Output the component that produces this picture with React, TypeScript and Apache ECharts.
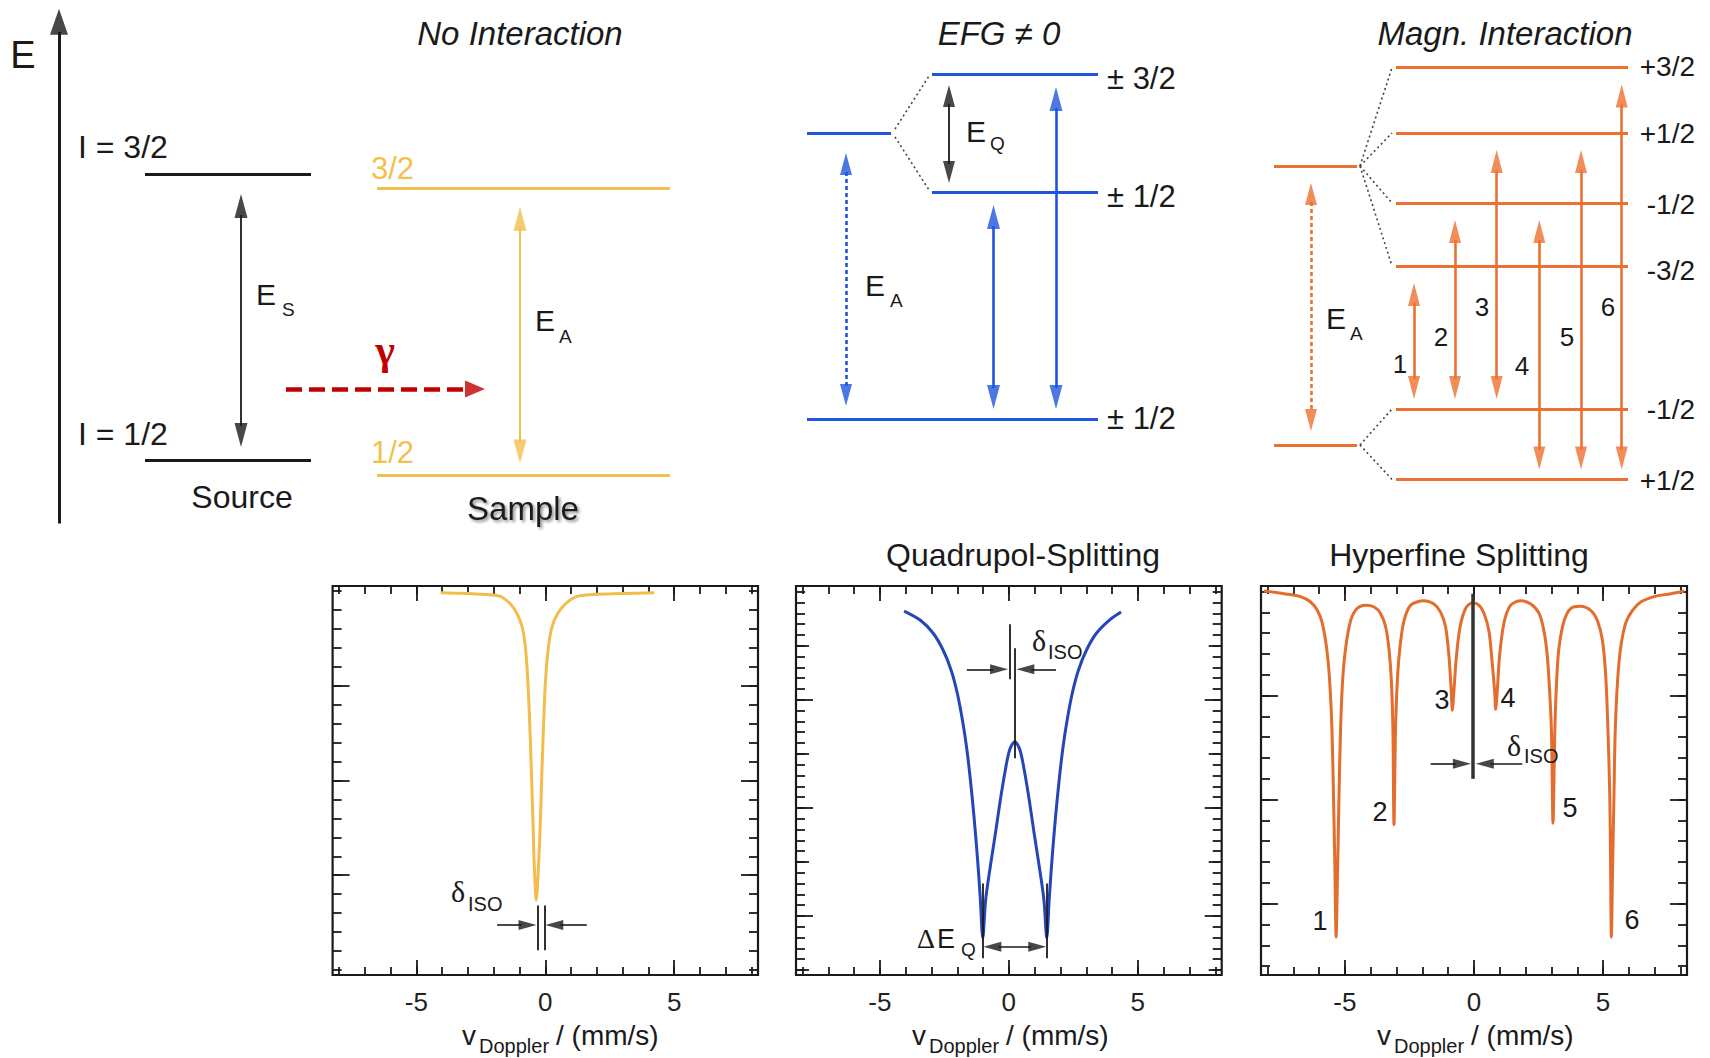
import React, { useEffect, useRef } from "react";
import * as echarts from "echarts";

const W = 1710;
const H = 1058;
const TOP_H = 530; // schematic panel: diagram units (1 unit = 1 px), energy measured upward
const SANS = "'Liberation Sans', Arial, Helvetica, sans-serif";
const SERIF = "'Liberation Serif', 'Times New Roman', serif";
const INK = "#1a1a1a";
const YEL = "#f3bf4d";
const BLUE = "#1f55dd";
const ORANGE = "#ec7130";
const RED = "#c00000";
const ARROW = "path://M0,0L6,22L-6,22Z M0,-22L0.01,-22L0,-22Z";

// ---------------- Spectra (velocity in mm/s, transmission in tick units) ----------------
const singleVel = [-4.06, -3.0, -2.26, -1.74, -1.35, -1.1, -0.9, -0.77, -0.68, -0.61, -0.54, -0.48, -0.43, -0.35, -0.26, -0.19, -0.13, -0.06, 0.01, 0.12, 0.26, 0.48, 0.77, 1.23, 1.87, 3.0, 4.23];
const singleTrans = [19.9, 19.85, 19.8, 19.7, 19.3, 18.8, 18.1, 17.0, 15.3, 13.2, 10.5, 7.9, 5.6, 3.7, 5.6, 7.9, 10.5, 13.2, 15.3, 17.0, 18.1, 18.8, 19.3, 19.7, 19.8, 19.85, 19.9];

const quadVel = [-4.06, -3.44, -2.94, -2.55, -2.24, -2.0, -1.8, -1.64, -1.49, -1.35, -1.22, -1.11, -1.01, -0.9, -0.72, -0.52, -0.33, -0.15, 0.03, 0.23, 0.43, 0.61, 0.79, 0.98, 1.18, 1.36, 1.47, 1.57, 1.68, 1.81, 1.95, 2.1, 2.26, 2.46, 2.7, 3.01, 3.4, 3.9, 4.35];
const quadTrans = [38.21, 37.38, 36.18, 34.61, 32.76, 30.63, 28.13, 25.63, 22.58, 19.16, 15.46, 11.76, 7.97, 11.48, 14.56, 17.65, 20.73, 23.32, 25.36, 26.12, 25.36, 23.32, 20.73, 17.65, 14.56, 11.48, 7.97, 11.76, 15.46, 19.16, 22.58, 25.63, 28.13, 30.63, 32.76, 34.61, 36.18, 37.38, 38.12];

const hypVel = [-8.14, -7.36, -6.72, -6.33, -6.07, -5.88, -5.71, -5.59, -5.5, -5.44, -5.39, -5.34, -5.28, -5.23, -5.17, -5.09, -4.97, -4.78, -4.52, -4.2, -3.88, -3.62, -3.42, -3.29, -3.2, -3.14, -3.1, -3.04, -2.97, -2.87, -2.71, -2.45, -1.94, -1.55, -1.29, -1.1, -0.97, -0.88, -0.84, -0.78, -0.68, -0.54, -0.32, -0.06, 0.19, 0.39, 0.58, 0.71, 0.8, 0.84, 0.9, 0.99, 1.16, 1.42, 1.81, 2.2, 2.52, 2.71, 2.84, 2.93, 3.0, 3.06, 3.13, 3.2, 3.29, 3.49, 3.75, 4.13, 4.52, 4.78, 4.97, 5.1, 5.19, 5.26, 5.29, 5.32, 5.37, 5.42, 5.47, 5.56, 5.68, 5.88, 6.14, 6.46, 6.98, 7.62, 8.14];
const hypTrans = [20.03, 19.9, 19.76, 19.5, 19.1, 18.5, 17.3, 15.7, 13.3, 10.1, 6.85, 3.4, 6.85, 10.1, 13.3, 15.7, 17.3, 18.6, 19.2, 19.35, 19.27, 18.95, 18.3, 17.2, 15.7, 13.3, 8.8, 13.3, 15.7, 17.3, 18.6, 19.35, 19.56, 19.4, 19.0, 18.3, 16.9, 15.2, 14.3, 15.2, 16.9, 18.3, 19.2, 19.47, 19.35, 18.95, 18.1, 16.5, 15.2, 14.35, 15.2, 16.9, 18.5, 19.35, 19.56, 19.4, 18.95, 18.1, 16.9, 15.2, 13.3, 8.87, 13.3, 15.7, 17.3, 18.6, 19.2, 19.3, 19.1, 18.6, 17.7, 16.0, 13.3, 10.1, 6.85, 3.4, 6.85, 10.1, 13.3, 15.7, 17.3, 18.5, 19.1, 19.5, 19.76, 19.9, 20.03];

// ---------------- Axis ticks ----------------
const VEL_MIN = -8.25;
const VEL_MAX = 8.25;
const velMajorTicks = [-5, 0, 5];
const velTickLabels = ["-5", "0", "5"];
const velMinorTicks = [-8, -7, -6, -5, -4, -3, -2, -1, 0, 1, 2, 3, 4, 5, 6, 7, 8];
const singleYMajor = [5, 10, 15];
const singleYMinor = [0, 1, 2, 3, 4, 5, 6, 7, 8, 9, 10, 11, 12, 13, 14, 15, 16, 17, 18, 19, 20];
const quadYLong = [10, 20, 30];
const quadYMedium = [5, 15, 25, 35];
const quadYShort = [5, 6, 7, 8, 9, 10, 11, 12, 13, 14, 15, 16, 17, 18, 19, 20, 21, 22, 23, 24, 25, 26, 27, 28, 29, 30, 31, 32, 33, 34, 35, 36, 37, 38, 39, 40];
const hypYMajor = [5, 10, 15];
const hypYMinor = [2, 3, 4, 5, 6, 7, 8, 9, 10, 11, 12, 13, 14, 15, 16, 17, 18, 19, 20];

// ---------------- Energy-level schemes (diagram units) ----------------
const sourceLevelE = [355.5, 70];
const sourceLevelNames = ["I = 3/2", "I = 1/2"];
const sampleLevelE = [341.3, 54.5];
const sampleLevelNames = ["3/2", "1/2"];
const efgUnsplitE = 397;
const efgSplitE = [456, 338];
const efgGroundE = 111;
const efgLevelNames = ["± 3/2", "± 1/2", "± 1/2"];
const magExcitedE = 364;
const magGroundE = 85;
const magExcitedSplitE = [462.4, 397, 327, 264];
const magGroundSplitE = [121, 50.5];
const magExcitedNames = ["+3/2", "+1/2", "-1/2", "-3/2"];
const magGroundNames = ["-1/2", "+1/2"];
const magTransitions = [[0, 3], [0, 2], [0, 1], [1, 2], [1, 1], [1, 0]]; // [ground, excited]
const magTransitionNames = ["1", "2", "3", "4", "5", "6"];
const hypPeakNames = ["1", "2", "3", "4", "5", "6"];

const py = (e: number) => TOP_H - e;

function txt(text: string, x: number, y: number, o: any = {}) {
  const align = o.align || "left";
  const style: any = {
    text,
    fill: o.color || INK,
    fontSize: o.size || 30,
    fontFamily: o.family || SANS,
    fontStyle: o.italic ? "italic" : "normal",
    fontWeight: o.bold ? "bold" : "normal",
    align,
    verticalAlign: "middle",
    textAlign: align,
    textVerticalAlign: "middle",
  };
  if (o.shadow) {
    style.textShadowColor = "rgba(0,0,0,0.45)";
    style.textShadowBlur = 3;
    style.textShadowOffsetX = 2;
    style.textShadowOffsetY = 2;
  }
  return { type: "text", x, y, silent: true, z: 10, style };
}

function makeCollector(pxPerUnitX: number) {
  const segs: any[] = [];
  const heads: any[] = [];
  const seg = (x1: number, y1: number, x2: number, y2: number, color: string, width: number, type: any = "solid") =>
    segs.push({ coords: [[x1, y1], [x2, y2]], lineStyle: { color, width, type, opacity: 1, curveness: 0 } });
  const head = (x: number, y: number, rot: number, w: number, len: number, color: string) =>
    heads.push({ value: [x, y], symbolRotate: rot, symbolSize: [w, 2 * len], itemStyle: { color } });
  const vArrow = (x: number, eTop: number, eBot: number, color: string, width: number, w: number, len: number, type: any = "solid", top = true, bottom = true) => {
    const inset = len - 3;
    seg(x, top ? eTop - inset : eTop, x, bottom ? eBot + inset : eBot, color, width, type);
    if (top) head(x, eTop, 0, w, len, color);
    if (bottom) head(x, eBot, 180, w, len, color);
  };
  const hArrow = (xFrom: number, xTip: number, y: number, color: string, width: number, w: number, len: number, type: any = "solid") => {
    const dir = xTip > xFrom ? 1 : -1;
    seg(xFrom, y, xTip - dir * (len - 3) / pxPerUnitX, y, color, width, type);
    head(xTip, y, dir > 0 ? -90 : 90, w, len, color);
  };
  const dArrow = (x1: number, x2: number, y: number, color: string, width: number, w: number, len: number) => {
    const ins = (len - 3) / pxPerUnitX;
    seg(x1 + ins, y, x2 - ins, y, color, width);
    head(x1, y, 90, w, len, color);
    head(x2, y, -90, w, len, color);
  };
  return { segs, heads, seg, head, vArrow, hArrow, dArrow };
}

function buildOption() {
  const grid: any[] = [];
  const xAxis: any[] = [];
  const yAxis: any[] = [];
  const series: any[] = [];
  const graphic: any[] = [];

  // ---------- Schematic canvas ----------
  grid.push({ left: 0, top: 0, width: W, height: TOP_H, show: false, outerBoundsMode: "none" });
  xAxis.push({ gridIndex: 0, type: "value", min: 0, max: W, show: false });
  yAxis.push({ gridIndex: 0, type: "value", min: 0, max: TOP_H, show: false });
  const top = makeCollector(1);

  // Left: source and sample
  top.vArrow(59, 521.3, 6.5, INK, 3, 18, 26, "solid", true, false);
  sourceLevelE.forEach((e) => top.seg(145, e, 311, e, INK, 3));
  top.vArrow(241, sourceLevelE[0] - 19.5, sourceLevelE[1] + 13, INK, 1.8, 13, 24);
  top.hArrow(286, 485, 141, RED, 4.5, 17, 20, [16, 7]);
  sampleLevelE.forEach((e) => top.seg(377, e, 670, e, YEL, 3.2));
  top.vArrow(520, sampleLevelE[0] - 18, sampleLevelE[1] + 12, YEL, 2, 13, 24);

  // EFG
  top.seg(807, efgUnsplitE, 891, efgUnsplitE, BLUE, 3.2);
  efgSplitE.forEach((e) => top.seg(932, e, 1098, e, BLUE, 3.2));
  top.seg(807, efgGroundE, 1098, efgGroundE, BLUE, 3.2);
  top.seg(895, efgUnsplitE + 4, 929, efgSplitE[0] - 2, "#444", 1.6, [2, 3]);
  top.seg(895, efgUnsplitE - 4, 929, efgSplitE[1] + 2, "#444", 1.6, [2, 3]);
  top.vArrow(949, efgSplitE[0] - 11, efgSplitE[1] + 9, INK, 1.8, 12, 22);
  top.vArrow(846, efgUnsplitE - 20, efgGroundE + 13, BLUE, 2.6, 12, 22, [4, 3]);
  top.vArrow(993.5, efgSplitE[1] - 13, efgGroundE + 10, BLUE, 2.6, 13, 24);
  top.vArrow(1056, efgSplitE[0] - 13, efgGroundE + 10, BLUE, 2.6, 13, 24);

  // Magnetic
  top.seg(1274, magExcitedE, 1357, magExcitedE, ORANGE, 3.2);
  top.seg(1274, magGroundE, 1357, magGroundE, ORANGE, 3.2);
  magExcitedSplitE.forEach((e) => {
    top.seg(1396, e, 1628, e, ORANGE, 3.2);
    top.seg(1360, magExcitedE, 1392, e, "#444", 1.6, [2, 3]);
  });
  magGroundSplitE.forEach((e) => {
    top.seg(1396, e, 1628, e, ORANGE, 3.2);
    top.seg(1360, magGroundE, 1392, e, "#444", 1.6, [2, 3]);
  });
  top.vArrow(1311, magExcitedE - 17, magGroundE + 14, ORANGE, 2.6, 12, 22, [4, 3]);
  const magArrowX = [1414, 1455, 1496.7, 1539.3, 1581, 1621.7];
  magTransitions.forEach(([g, ex], i) => {
    top.vArrow(magArrowX[i], magExcitedSplitE[ex] - 17, magGroundSplitE[g] + 10, ORANGE, 2.6, 12, 23);
  });

  series.push({ type: "lines", coordinateSystem: "cartesian2d", xAxisIndex: 0, yAxisIndex: 0, polyline: false, silent: true, z: 3, data: top.segs, lineStyle: { opacity: 1 } });
  series.push({ type: "scatter", xAxisIndex: 0, yAxisIndex: 0, symbol: ARROW, silent: true, z: 4, data: top.heads, clip: false });

  // ---------- Spectra ----------
  const tick = (values: number[], length: number) => ({
    show: true, inside: true, length, customValues: values,
    lineStyle: { color: INK, width: 1.8 },
  });

  function spectrum(box: any, yMin: number, yMax: number, yTicks: { v: number[]; len: number }[], vel: number[], trans: number[], color: string, annotate: (c: any) => void) {
    const gi = grid.length;
    grid.push({ left: box.left, top: box.top, width: box.width, height: box.height, show: true, borderColor: INK, borderWidth: 2.2, backgroundColor: "rgba(0,0,0,0)", outerBoundsMode: "none" });
    const baseX: any = { gridIndex: gi, type: "value", min: VEL_MIN, max: VEL_MAX, axisLine: { show: false, onZero: false }, splitLine: { show: false }, axisLabel: { show: false } };
    const xMain = xAxis.length;
    xAxis.push({
      ...baseX, position: "bottom", axisTick: tick(velMajorTicks, 15),
      axisLabel: {
        show: true, customValues: velMajorTicks, fontSize: 26, fontFamily: SANS, color: "#222", margin: 14,
        formatter: (v: number) => { const i = velMajorTicks.indexOf(Math.round(v)); return i >= 0 ? velTickLabels[i] : ""; },
      },
    });
    xAxis.push({ ...baseX, position: "bottom", axisTick: tick(velMinorTicks, 8) });
    xAxis.push({ ...baseX, position: "top", axisTick: tick(velMajorTicks, 15) });
    xAxis.push({ ...baseX, position: "top", axisTick: tick(velMinorTicks, 8) });
    const yMain = yAxis.length;
    ["left", "right"].forEach((pos) => {
      yTicks.forEach((t) => {
        yAxis.push({ gridIndex: gi, type: "value", min: yMin, max: yMax, position: pos, axisLine: { show: false, onZero: false }, splitLine: { show: false }, axisLabel: { show: false }, axisTick: tick(t.v, t.len) });
      });
    });
    series.push({
      type: "line", xAxisIndex: xMain, yAxisIndex: yMain, data: vel.map((v, i) => [v, trans[i]]),
      showSymbol: false, symbol: "none", smooth: 0.3, silent: true, z: 2,
      lineStyle: { color, width: 3 },
    });
    const c = makeCollector(box.width / (VEL_MAX - VEL_MIN));
    annotate(c);
    series.push({ type: "lines", coordinateSystem: "cartesian2d", xAxisIndex: xMain, yAxisIndex: yMain, polyline: false, silent: true, z: 3, data: c.segs, lineStyle: { opacity: 1 } });
    series.push({ type: "scatter", xAxisIndex: xMain, yAxisIndex: yMain, symbol: ARROW, silent: true, z: 4, data: c.heads, clip: false });
  }

  spectrum({ left: 332.6, top: 586, width: 425.4, height: 389 }, -0.26, 20.25,
    [{ v: singleYMajor, len: 17 }, { v: singleYMinor, len: 9 }], singleVel, singleTrans, "#f2bd4a", (c) => {
      c.seg(-0.3, 3.4, -0.3, 1.05, INK, 1.8);
      c.seg(-0.04, 3.4, -0.04, 1.05, INK, 1.8);
      c.hArrow(-1.87, -0.34, 2.37, INK, 1.6, 10, 18);
      c.hArrow(1.61, 0.0, 2.37, INK, 1.6, 10, 18);
    });

  spectrum({ left: 796, top: 586, width: 425.7, height: 389 }, 4.54, 40.53,
    [{ v: quadYLong, len: 17 }, { v: quadYMedium, len: 13 }, { v: quadYShort, len: 9 }], quadVel, quadTrans, "#2546b8", (c) => {
      c.seg(0.02, 36.98, 0.02, 31.9, INK, 1.8);
      c.seg(0.24, 34.76, 0.24, 24.6, INK, 1.8);
      c.hArrow(-1.63, -0.03, 32.82, INK, 1.6, 10, 18);
      c.hArrow(1.83, 0.29, 32.82, INK, 1.6, 10, 18);
      c.seg(-1.01, 13.0, -1.01, 6.1, INK, 1.8);
      c.seg(1.47, 13.0, 1.47, 6.1, INK, 1.8);
      c.dArrow(-0.99, 1.45, 7.15, INK, 1.6, 10, 18);
    });

  spectrum({ left: 1261, top: 586, width: 426, height: 389 }, 1.57, 20.27,
    [{ v: hypYMajor, len: 17 }, { v: hypYMinor, len: 9 }], hypVel, hypTrans, "#e36d2c", (c) => {
      c.seg(-0.03, 19.9, -0.03, 11.0, "#333", 3.5);
      c.hArrow(-1.68, -0.12, 11.73, INK, 1.6, 10, 18);
      c.hArrow(1.87, 0.07, 11.73, INK, 1.6, 10, 18);
    });

  // ---------- Texts ----------
  graphic.push(txt("E", 23, 55, { size: 38, align: "center" }));
  graphic.push(txt(sourceLevelNames[0], 78, py(sourceLevelE[0]) - 27.5, { size: 32 }));
  graphic.push(txt(sourceLevelNames[1], 78, py(sourceLevelE[1]) - 26, { size: 32 }));
  graphic.push(txt("Source", 242, 497, { size: 32, align: "center" }));
  graphic.push(txt("E", 256, 294, { size: 30 }));
  graphic.push(txt("S", 282, 309, { size: 19 }));
  graphic.push(txt("γ", 385, 350, { size: 42, family: SERIF, bold: true, color: RED, align: "center" }));
  graphic.push(txt(sampleLevelNames[0], 371, py(sampleLevelE[0]) - 20, { size: 31, color: YEL }));
  graphic.push(txt(sampleLevelNames[1], 371, py(sampleLevelE[1]) - 23, { size: 31, color: YEL }));
  graphic.push(txt("E", 535, 320, { size: 30 }));
  graphic.push(txt("A", 559, 336, { size: 19 }));
  graphic.push(txt("No Interaction", 520, 33, { size: 33, italic: true, align: "center" }));
  graphic.push(txt("Sample", 523, 508, { size: 33, align: "center", shadow: true }));

  graphic.push(txt("EFG ≠ 0", 999, 33, { size: 33, italic: true, align: "center" }));
  [efgSplitE[0], efgSplitE[1], efgGroundE].forEach((e, i) => {
    graphic.push(txt(efgLevelNames[i], 1107, py(e) + [4, 4, -1][i], { size: 31 }));
  });
  graphic.push(txt("E", 966, 131, { size: 30 }));
  graphic.push(txt("Q", 990, 143, { size: 19 }));
  graphic.push(txt("E", 865, 285, { size: 30 }));
  graphic.push(txt("A", 890, 300, { size: 19 }));

  graphic.push(txt("Magn. Interaction", 1505, 33, { size: 33, italic: true, align: "center" }));
  magExcitedSplitE.forEach((e, i) => graphic.push(txt(magExcitedNames[i], 1695, py(e) + [-1, 0, 1, 4][i], { size: 28, align: "right" })));
  magGroundSplitE.forEach((e, i) => graphic.push(txt(magGroundNames[i], 1695, py(e) + [0, 1][i], { size: 28, align: "right" })));
  graphic.push(txt("E", 1326, 318, { size: 30 }));
  graphic.push(txt("A", 1350, 333, { size: 19 }));
  const magNumPos = [[1400, 364], [1441, 337], [1482, 307], [1522, 366], [1567, 337], [1608, 307]];
  magTransitionNames.forEach((n, i) => graphic.push(txt(n, magNumPos[i][0], magNumPos[i][1], { size: 26, align: "center" })));

  graphic.push(txt("Quadrupol-Splitting", 1023, 555, { size: 32, align: "center" }));
  graphic.push(txt("Hyperfine Splitting", 1459, 555, { size: 32, align: "center" }));
  [462, 912, 1377].forEach((bx) => {
    graphic.push(txt("v", bx, 1035, { size: 28 }));
    graphic.push(txt("Doppler", bx + 17, 1046, { size: 20 }));
    graphic.push(txt("/ (mm/s)", bx + 94, 1035, { size: 28 }));
  });
  graphic.push(txt("δ", 451, 891, { size: 30, family: SERIF }));
  graphic.push(txt("ISO", 468, 904, { size: 20 }));
  graphic.push(txt("δ", 1032, 640, { size: 30, family: SERIF }));
  graphic.push(txt("ISO", 1048, 652, { size: 20 }));
  graphic.push(txt("Δ", 917, 938, { size: 28, family: SERIF }));
  graphic.push(txt("E", 937, 939, { size: 27 }));
  graphic.push(txt("Q", 961, 949, { size: 19 }));
  graphic.push(txt("δ", 1507, 745, { size: 30, family: SERIF }));
  graphic.push(txt("ISO", 1524, 756, { size: 20 }));
  const hypNumPos = [[1320, 921], [1380, 812], [1442, 700], [1508, 698], [1570, 808], [1632, 920]];
  hypPeakNames.forEach((n, i) => graphic.push(txt(n, hypNumPos[i][0], hypNumPos[i][1], { size: 27, align: "center" })));

  return {
    animation: false,
    backgroundColor: "#ffffff",
    grid, xAxis, yAxis, series,
    graphic: { elements: graphic },
  };
}

export default function App() {
  const ref = useRef<HTMLDivElement>(null);
  useEffect(() => {
    if (!ref.current) return;
    const chart = echarts.init(ref.current, undefined, { renderer: "svg", width: W, height: H });
    chart.setOption(buildOption());
    return () => chart.dispose();
  }, []);
  return <div ref={ref} style={{ position: "absolute", left: 0, top: 0, width: W, height: H, background: "#fff" }} />;
}
